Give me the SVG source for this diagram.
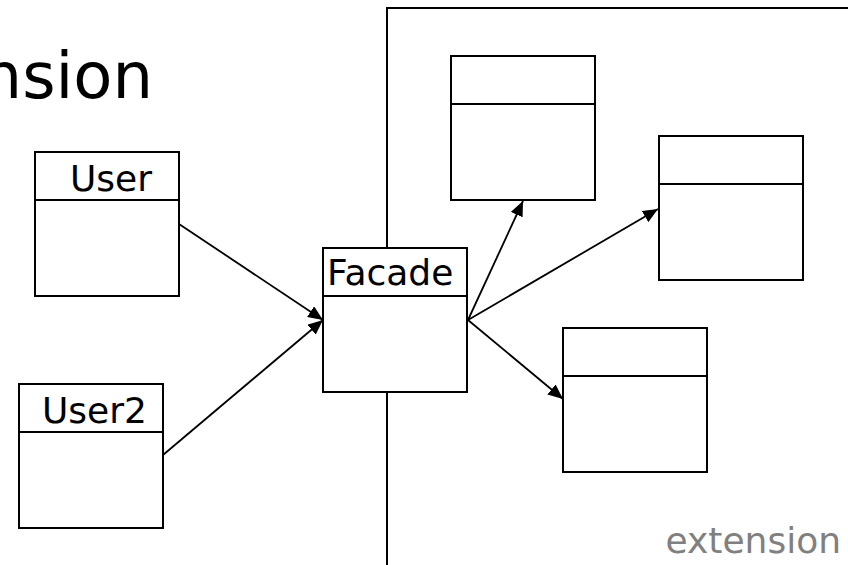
<svg xmlns="http://www.w3.org/2000/svg" width="848" height="565" viewBox="0 0 848 565">
  <style>
    .box { fill: #ffffff; stroke: #000000; stroke-width: 2; }
    .div { stroke: #000000; stroke-width: 2; }
    .edge { stroke: #000000; stroke-width: 1.8; fill: none; }
    .lbl { font-family: "DejaVu Sans", Verdana, sans-serif; font-size: 36px; fill: #000000; }
    .frame { stroke: #000000; stroke-width: 2; fill: none; }
  </style>
  <defs>
    <marker id="arrow" markerUnits="userSpaceOnUse" markerWidth="15" markerHeight="13" viewBox="0 0 15 13" refX="15" refY="6.5" orient="auto">
      <path d="M0,0 L15,6.5 L0,13 Z" fill="#000000"/>
    </marker>
  </defs>
  <rect width="848" height="565" fill="#ffffff"/>

  <!-- title, running off the left edge -->
  <text x="153" y="98" text-anchor="end" font-family="DejaVu Sans, Verdana, sans-serif" font-size="64" fill="#000000">nsion</text>

  <!-- extension package frame -->
  <g id="extension-frame">
    <path class="frame" d="M387,565 L387,8 L848,8"/>
    <text x="841" y="553" text-anchor="end" font-family="DejaVu Sans, Verdana, sans-serif" font-size="36" fill="#808080">extension</text>
  </g>

  <g id="connectors">
    <line class="edge" x1="179" y1="224" x2="323" y2="320" marker-end="url(#arrow)"/>
    <line class="edge" x1="163" y1="455" x2="323" y2="320" marker-end="url(#arrow)"/>
    <line class="edge" x1="468" y1="320" x2="523" y2="201" marker-end="url(#arrow)"/>
    <line class="edge" x1="468" y1="320" x2="658" y2="209" marker-end="url(#arrow)"/>
    <line class="edge" x1="468" y1="320" x2="563" y2="399" marker-end="url(#arrow)"/>
  </g>

  <g id="user">
    <rect class="box" x="35" y="152" width="144" height="144"/>
    <line class="div" x1="35" y1="200" x2="179" y2="200"/>
    <text class="lbl" x="70" y="191">User</text>
  </g>

  <g id="user2">
    <rect class="box" x="19" y="384" width="144" height="144"/>
    <line class="div" x1="19" y1="432" x2="163" y2="432"/>
    <text class="lbl" x="42" y="423">User2</text>
  </g>

  <g id="facade">
    <rect class="box" x="323" y="248" width="144" height="144"/>
    <line class="div" x1="323" y1="296" x2="467" y2="296"/>
    <text class="lbl" x="327" y="285">Facade</text>
  </g>

  <g id="class-a">
    <rect class="box" x="451" y="56" width="144" height="144"/>
    <line class="div" x1="451" y1="104" x2="595" y2="104"/>
  </g>

  <g id="class-b">
    <rect class="box" x="659" y="136" width="144" height="144"/>
    <line class="div" x1="659" y1="184" x2="803" y2="184"/>
  </g>

  <g id="class-c">
    <rect class="box" x="563" y="328" width="144" height="144"/>
    <line class="div" x1="563" y1="376" x2="707" y2="376"/>
  </g>
</svg>
